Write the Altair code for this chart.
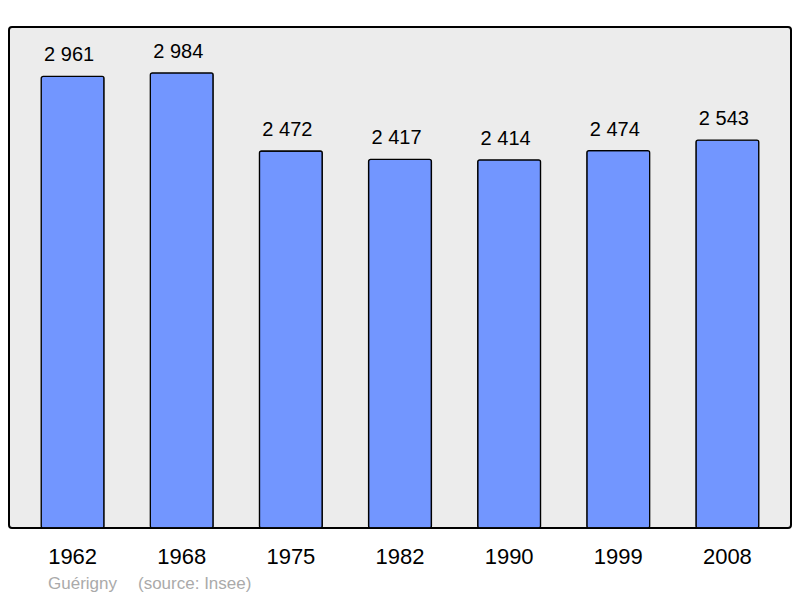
import altair as alt
import pandas as pd

years = ["1962", "1968", "1975", "1982", "1990", "1999", "2008"]
population = [2961, 2984, 2472, 2417, 2414, 2474, 2543]
footer_place = "Guérigny"
footer_source = "(source: Insee)"

df = pd.DataFrame({
    "year": years,
    "pop": population,
    "label": [f"{v:,}".replace(",", " ") for v in population],
})

FONT = "Liberation Sans"

x = alt.X("year:N", sort=years, title=None,
          scale=alt.Scale(paddingInner=0.424, paddingOuter=0.295),
          axis=alt.Axis(domain=False, ticks=False, labelAngle=0, labelFontSize=22,
                        labelFont=FONT, labelColor="#000000", labelPadding=18,
                        grid=False))
y = alt.Y("pop:Q", title=None, axis=None,
          scale=alt.Scale(domain=[0, 3285], nice=False, zero=True))

base = alt.Chart(df)
bars = base.mark_bar(color="#7296ff", stroke="#000000", strokeWidth=1.3,
                     cornerRadius=2).encode(x=x, y=y)
labels = base.mark_text(dy=-15, dx=-3.5, baseline="alphabetic", fontSize=20, font=FONT,
                        color="#000000").encode(x=x, y=y, text="label:N")

foot_df = pd.DataFrame({"t": [footer_place, footer_source], "px": [39, 129]})
footer = alt.Chart(foot_df).mark_text(align="left", baseline="alphabetic",
                                      fontSize=17, font=FONT, color="#aaaaaa").encode(
    x=alt.X("px:Q", scale=None), y=alt.value(562), text="t:N")

chart = alt.layer(bars, labels, footer).properties(
    width=782, height=501,
    autosize=alt.AutoSizeParams(type="none"),
    padding={"left": 1, "top": 19, "right": 1, "bottom": 68},
).configure_view(fill="#ececec", stroke="#000000", strokeWidth=2, cornerRadius=3)

chart.save("out.html", embed_options={"renderer": "svg", "actions": False})
